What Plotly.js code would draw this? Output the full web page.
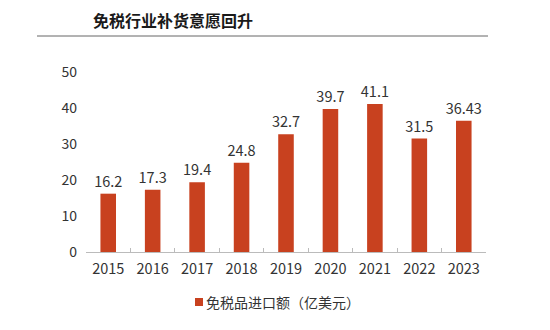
<!DOCTYPE html>
<html><head><meta charset="utf-8">
<script src="https://cdn.plot.ly/plotly-3.0.1.min.js"></script>
<style>body{margin:0;background:#fff}#c{width:550px;height:330px}</style>
</head><body><div id="c"></div>
<script>
const years = ['2015','2016','2017','2018','2019','2020','2021','2022','2023'];
const values = [16.2, 17.3, 19.4, 24.8, 32.7, 39.7, 41.1, 31.5, 36.43];
const labels = ['16.2','17.3','19.4','24.8','32.7','39.7','41.1','31.5','36.43'];
const seriesName = '免税品进口额（亿美元）';
const chartTitle = '免税行业补货意愿回升';
const yTicks = [0,10,20,30,40,50];

const font = 'Noto Sans CJK SC, Noto Sans, sans-serif';
const barColor = '#C8411F';
Plotly.newPlot('c', [{
  type:'bar', x:years, y:values, name:seriesName,
  marker:{color:barColor}, width:0.35,
  text:labels, textposition:'outside', cliponaxis:false, constraintext:'none',
  textfont:{family:font, size:14.5, color:'#333'}
}], {
  width:550, height:330,
  margin:{l:86, r:64, t:72, b:78},
  paper_bgcolor:'#fff', plot_bgcolor:'#fff',
  font:{family:font, color:'#333', size:13},
  showlegend:false,
  xaxis:{type:'category', showline:true, linecolor:'#bbb', ticks:'inside', tickson:'boundaries', ticklen:4, tickcolor:'#bbb', showgrid:false, ticklabelstandoff:4, tickfont:{size:14.5, color:'#333'}},
  yaxis:{range:[0,50], tickvals:yTicks, showgrid:false, zeroline:false, showline:false, tickfont:{size:14, color:'#333'}, ticks:'', ticklabelstandoff:8, automargin:false},
  annotations:[
    {text:'<b>'+chartTitle+'</b>', xref:'paper', yref:'paper', x:(91-86)/400, y:1+(72-20)/180, xanchor:'left', yanchor:'middle', showarrow:false, font:{size:16, color:'#1a1a1a', family:font}},
    {text:seriesName, xref:'paper', yref:'paper', x:(204-86)/400, y:-(302-252)/180, xanchor:'left', yanchor:'middle', showarrow:false, font:{size:14, color:'#333', family:font}}
  ],
  shapes:[
    {type:'line', xref:'paper', yref:'paper', x0:(37-86)/400, x1:(488-86)/400, y0:1+(72-36)/180, y1:1+(72-36)/180, line:{color:'#666', width:1}},
    {type:'rect', xref:'paper', yref:'paper', x0:(195-86)/400, x1:(203-86)/400, y0:-(298-252)/180, y1:-(306-252)/180, fillcolor:barColor, line:{width:0}}
  ]
}, {displayModeBar:false, staticPlot:true});
</script></body></html>
